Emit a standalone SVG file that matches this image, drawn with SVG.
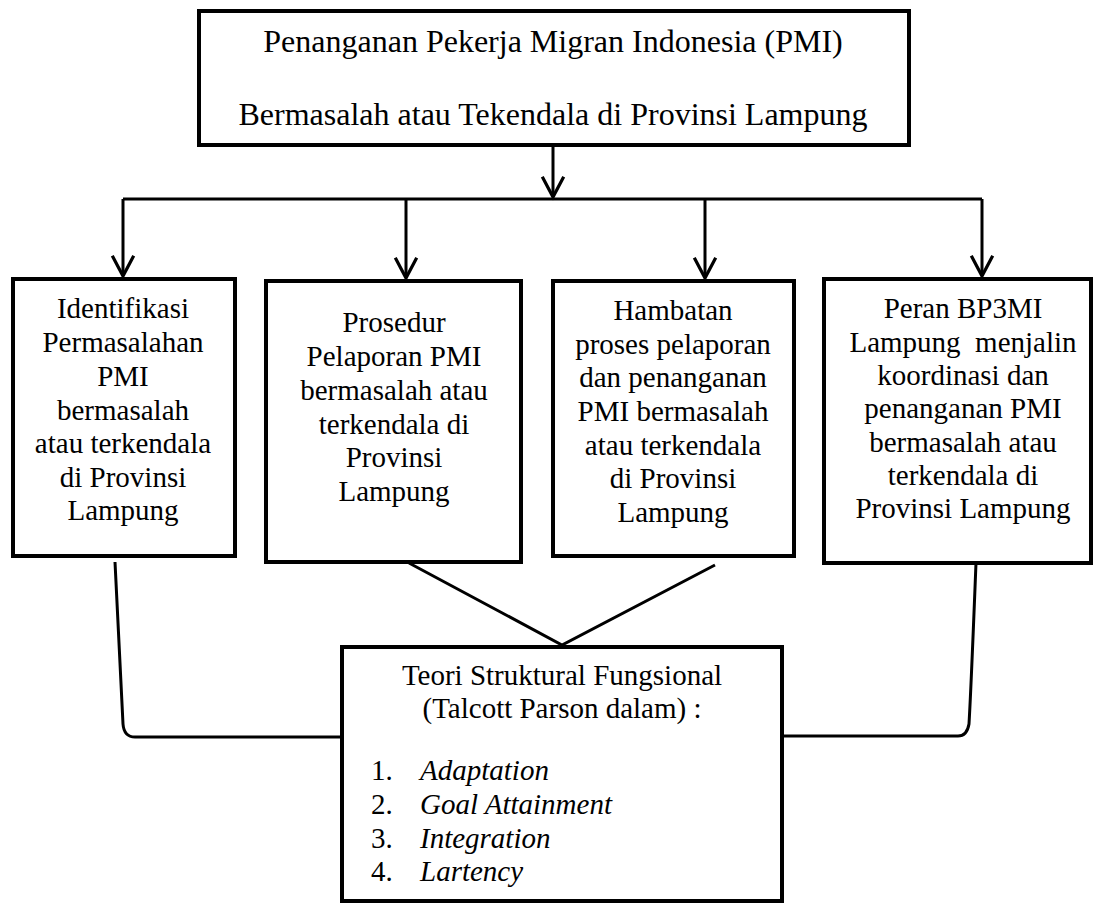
<svg xmlns="http://www.w3.org/2000/svg" width="1102" height="906" viewBox="0 0 1102 906">
<style>
  .box { fill: #ffffff; stroke: #000000; stroke-width: 4; }
  .t { font-family: "Liberation Serif", "Times New Roman", serif; font-size: 29px; fill: #000000; text-anchor: middle; }
  .tl { font-family: "Liberation Serif", "Times New Roman", serif; font-size: 29px; fill: #000000; }
  .it { font-style: italic; }
  .head { font-size: 32px; }
  .conn { fill: none; stroke: #000000; stroke-width: 3; stroke-linejoin: miter; }
</style>
<defs>
  <marker id="arrow" markerUnits="userSpaceOnUse" markerWidth="30" markerHeight="30" refX="0" refY="0" viewBox="-22 -14 26 28" orient="auto" overflow="visible">
    <path d="M-19,-10 L0,0 L-19,10" fill="none" stroke="#000000" stroke-width="3"/>
  </marker>
</defs>

<g id="connectors">
  <path class="conn" d="M553,147 L553,197" marker-end="url(#arrow)"/>
  <path class="conn" d="M123,199 L982,199"/>
  <path class="conn" d="M123,199 L123,276" marker-end="url(#arrow)"/>
  <path class="conn" d="M406,199 L406,278" marker-end="url(#arrow)"/>
  <path class="conn" d="M705,199 L705,278" marker-end="url(#arrow)"/>
  <path class="conn" d="M982,199 L982,276" marker-end="url(#arrow)"/>
  <path class="conn" d="M409,563 L562,645 L715,565"/>
  <path class="conn" d="M115,562 Q121,690 123,724 Q124,737 135,737 L341,737"/>
  <path class="conn" d="M976,563 Q971,690 969,724 Q967,736 958,736 L783,736"/>
</g>

<g id="node-top">
  <rect class="box" x="199" y="11" width="710" height="134"/>
  <text class="t head" x="553" y="52">Penanganan Pekerja Migran Indonesia (PMI)</text>
  <text class="t head" x="553" y="125">Bermasalah atau Tekendala di Provinsi Lampung</text>
</g>

<g id="node-identifikasi">
  <rect class="box" x="13" y="279" width="222" height="277"/>
  <text class="t" x="123" y="318">Identifikasi</text>
  <text class="t" x="123" y="352">Permasalahan</text>
  <text class="t" x="123" y="386">PMI</text>
  <text class="t" x="123" y="420">bermasalah</text>
  <text class="t" x="123" y="453">atau terkendala</text>
  <text class="t" x="123" y="487">di Provinsi</text>
  <text class="t" x="123" y="520">Lampung</text>
</g>

<g id="node-prosedur">
  <rect class="box" x="266" y="281" width="255" height="281"/>
  <text class="t" x="394" y="332">Prosedur</text>
  <text class="t" x="394" y="366">Pelaporan PMI</text>
  <text class="t" x="394" y="400">bermasalah atau</text>
  <text class="t" x="394" y="434">terkendala di</text>
  <text class="t" x="394" y="467">Provinsi</text>
  <text class="t" x="394" y="501">Lampung</text>
</g>

<g id="node-hambatan">
  <rect class="box" x="553" y="281" width="241" height="275"/>
  <text class="t" x="673" y="320">Hambatan</text>
  <text class="t" x="673" y="354">proses pelaporan</text>
  <text class="t" x="673" y="387">dan penanganan</text>
  <text class="t" x="673" y="421">PMI bermasalah</text>
  <text class="t" x="673" y="455">atau terkendala</text>
  <text class="t" x="673" y="488">di Provinsi</text>
  <text class="t" x="673" y="522">Lampung</text>
</g>

<g id="node-peran">
  <rect class="box" x="824" y="279" width="267" height="284"/>
  <text class="t" x="963" y="318">Peran BP3MI</text>
  <text class="t" x="963" y="352" xml:space="preserve">Lampung  menjalin</text>
  <text class="t" x="963" y="385">koordinasi dan</text>
  <text class="t" x="963" y="418">penanganan PMI</text>
  <text class="t" x="963" y="452">bermasalah atau</text>
  <text class="t" x="963" y="485">terkendala di</text>
  <text class="t" x="963" y="518">Provinsi Lampung</text>
</g>

<g id="node-teori">
  <rect class="box" x="342" y="647" width="440" height="254"/>
  <text class="t" x="562" y="685">Teori Struktural Fungsional</text>
  <text class="t" x="562" y="718">(Talcott Parson dalam) :</text>
  <text class="tl" x="371" y="780">1.</text>
  <text class="tl it" x="420" y="780">Adaptation</text>
  <text class="tl" x="371" y="814">2.</text>
  <text class="tl it" x="420" y="814">Goal Attainment</text>
  <text class="tl" x="371" y="848">3.</text>
  <text class="tl it" x="420" y="848">Integration</text>
  <text class="tl" x="371" y="881">4.</text>
  <text class="tl it" x="420" y="881">Lartency</text>
</g>
</svg>
